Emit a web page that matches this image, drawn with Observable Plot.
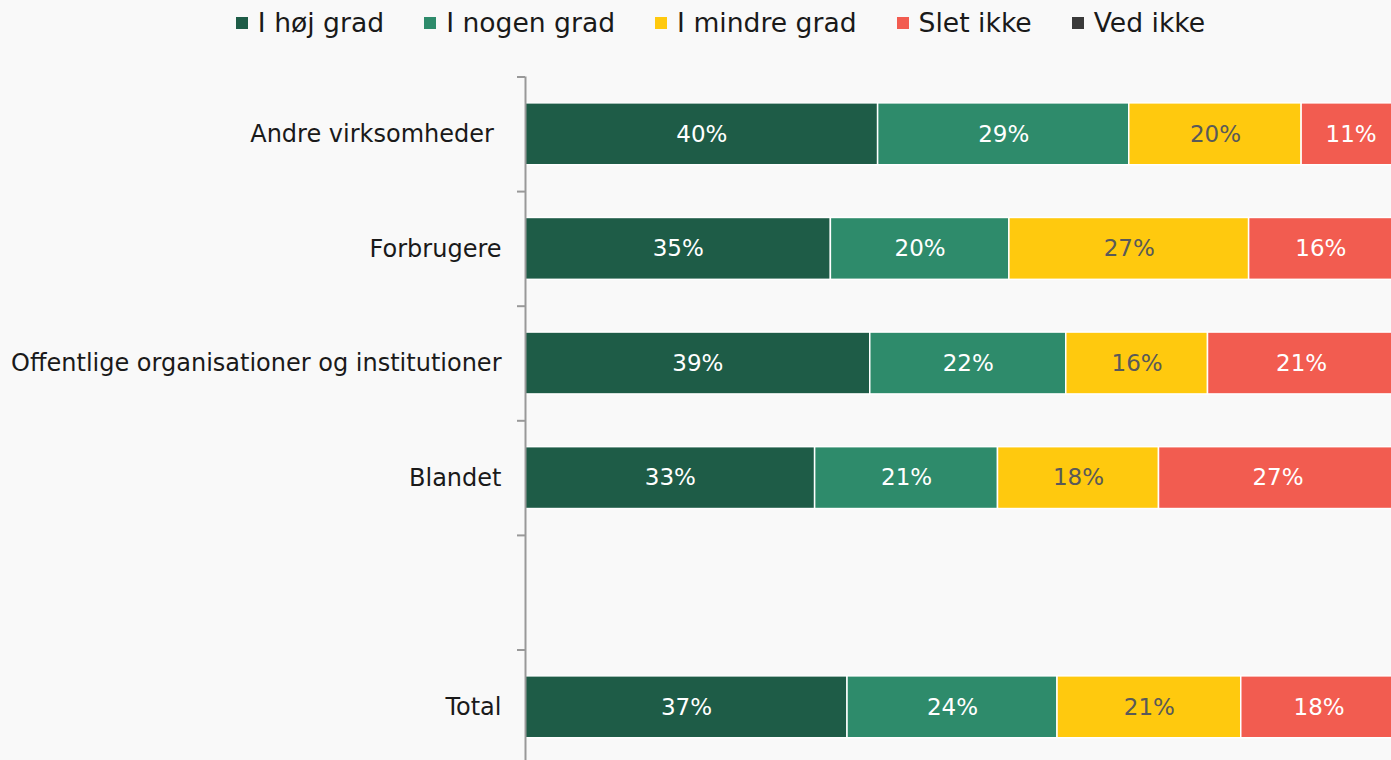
<!DOCTYPE html>
<html>
<head>
<meta charset="utf-8">
<script src="https://cdn.jsdelivr.net/npm/d3@7"></script>
<script src="https://cdn.jsdelivr.net/npm/@observablehq/plot@0.6"></script>
<style>
  html, body { margin: 0; padding: 0; background: #f9f9f9; overflow: hidden; }
  #wrap { position: relative; width: 1391px; height: 760px; }
  #legend { position: absolute; top: 0; left: 50px; width: 1341px; height: 45px;
    display: flex; justify-content: center; align-items: center;
    font-family: "DejaVu Sans", sans-serif; font-size: 26.6px; color: #1a1a1a; }
  .item { display: flex; align-items: center; margin: 0 20px; white-space: pre; }
  .sw { width: 12px; height: 12px; margin-right: 10px; }
  #chart { position: absolute; top: 0; left: 0; }
  svg text { white-space: pre; }
</style>
</head>
<body>
<div id="wrap">
  <div id="legend"></div>
  <div id="chart"></div>
</div>
<script>
const categories = ["Andre virksomheder ", "Forbrugere", "Offentlige organisationer og institutioner", "Blandet", " ", "Total"];
const seriesNames = ["I høj grad", "I nogen grad", "I mindre grad", "Slet ikke", "Ved ikke"];
const seriesColors = ["#1e5c47", "#2e8b6b", "#ffc90e", "#f25c50", "#3a3a3a"];

const hojGrad    = [40.3, 34.9, 39.4, 33.1, null, 36.8];
const nogenGrad  = [28.7, 20.4, 22.4, 20.9, null, 24.0];
const mindreGrad = [19.7, 27.4, 16.2, 18.4, null, 21.0];
const sletIkke   = [11.3, 16.4, 21.4, 27.2, null, 17.8];
const vedIkke    = [0.0, 0.9, 0.6, 0.4, null, 0.4];

const seriesValues = [hojGrad, nogenGrad, mindreGrad, sletIkke, vedIkke];
const data = [];
categories.forEach((cat, i) => {
  seriesNames.forEach((s, j) => {
    const v = seriesValues[j][i];
    if (v != null) data.push({cat, series: s, value: v});
  });
});

// legend
const legend = document.getElementById("legend");
seriesNames.forEach((s, j) => {
  const it = document.createElement("div");
  it.className = "item";
  const sw = document.createElement("span");
  sw.className = "sw";
  sw.style.background = seriesColors[j];
  const tx = document.createElement("span");
  tx.textContent = s;
  it.appendChild(sw); it.appendChild(tx);
  legend.appendChild(it);
});

const fmt = d => d.value >= 3 ? Math.round(d.value) + "%" : "";
const labelFont = {fontFamily: "DejaVu Sans", fontSize: 23, letterSpacing: "2px"};

const chart = Plot.plot({
  width: 1391,
  height: 760,
  marginTop: 76.5,
  marginBottom: 0,
  marginLeft: 525,
  marginRight: 0,
  style: {background: "transparent", fontFamily: "DejaVu Sans", fontSize: "24px", color: "#1a1a1a", overflow: "hidden"},
  x: {domain: [0, 100], range: [525, 1400], axis: null},
  y: {domain: categories, range: [76.5, 764.1], round: false, paddingInner: 0.46, paddingOuter: 0.23, axis: null},
  color: {domain: seriesNames, range: seriesColors},
  marks: [
    Plot.barX(data, Plot.stackX({x: "value", y: "cat", fill: "series", stroke: "white", strokeWidth: 1.5})),
    Plot.text(data, Plot.stackX({x: "value", y: "cat",
      text: d => d.series === "I mindre grad" ? fmt(d) : "",
      fill: "#595959", ...labelFont})),
    Plot.text(data, Plot.stackX({x: "value", y: "cat",
      text: d => d.series !== "I mindre grad" ? fmt(d) : "",
      fill: "white", ...labelFont})),
    Plot.axisY({ticks: categories, tickSize: 8, tickFormat: () => "", label: null, dy: -57.3, stroke: "#999", strokeWidth: 2}),
    Plot.axisY({ticks: categories, tickSize: 0, tickPadding: 24, label: null, fill: "#1a1a1a", fontSize: 24}),
    Plot.ruleX([0], {stroke: "#999", strokeWidth: 2})
  ]
});
document.getElementById("chart").appendChild(chart);
</script>
</body>
</html>
